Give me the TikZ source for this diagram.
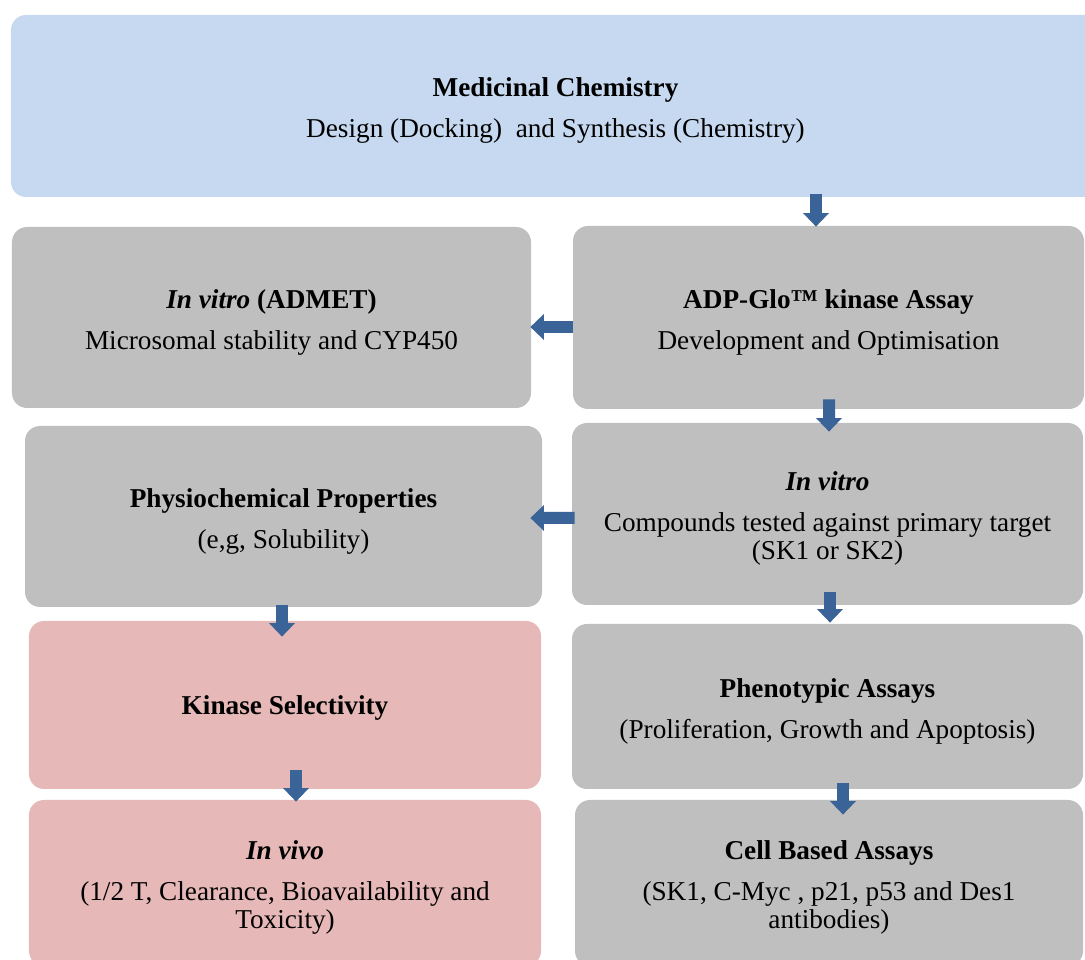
\documentclass[tikz,border=0pt]{standalone}
\usepackage{fontspec}
\setmainfont{Liberation Serif}
\usepackage{tikz}
\usetikzlibrary{shapes, calc, arrows.meta, positioning}

\definecolor{chemblue}{HTML}{C6D9F0}
\definecolor{assaygrey}{HTML}{BFBFBF}
\definecolor{vivopink}{HTML}{E6B8B7}
\definecolor{arrblue}{HTML}{3A6398}
\newcommand{\boxhead}[2][0.56cm]{\rule{0pt}{#1}\textbf{#2}}

\begin{document}
\begin{tikzpicture}[font=\fontsize{15.5}{15.9}\selectfont]
	\tikzset{box/.style={rectangle, rounded corners=0.3cm, align=center, inner sep=0pt},
		blk/.style={arrblue, line width=0.24cm, -{Triangle[width=0.5cm, length=0.27cm]}}}
	\useasboundingbox (0,0) rectangle (21.7,19.2);
	\clip (0,0) rectangle (21.7,19.2);
	\node[box, fill=chemblue, minimum width=21.78cm, minimum height=3.64cm] (med) at (11.11,17.08)
		{\boxhead{Medicinal Chemistry}\\[0.26cm] Design (Docking)\ \ and Synthesis (Chemistry)};
	\node[box, fill=assaygrey, minimum width=10.38cm, minimum height=3.62cm] (admet) at (5.43,12.85)
		{\boxhead{\textit{In vitro} (ADMET)}\\[0.26cm] Microsomal stability and CYP450};
	\node[box, fill=assaygrey, minimum width=10.22cm, minimum height=3.66cm] (adp) at (16.57,12.85)
		{\boxhead{ADP-Glo™ kinase Assay}\\[0.26cm] Development and Optimisation};
	\node[box, fill=assaygrey, minimum width=10.34cm, minimum height=3.62cm] (physio) at (5.67,8.87)
		{\boxhead{Physiochemical Properties}\\[0.26cm] (e,g, Solubility)};
	\node[box, fill=assaygrey, minimum width=10.22cm, minimum height=3.64cm] (invitro) at (16.55,8.92)
		{\boxhead{\textit{In vitro}}\\[0.26cm] Compounds tested against primary target\\ (SK1 or SK2)};
	\node[box, fill=vivopink, minimum width=10.24cm, minimum height=3.36cm] (kinase) at (5.70,5.10)
		{\boxhead[0.5cm]{Kinase Selectivity}};
	\node[box, fill=assaygrey, minimum width=10.22cm, minimum height=3.30cm] (pheno) at (16.55,5.07)
		{\boxhead{Phenotypic Assays}\\[0.26cm] (Proliferation, Growth and Apoptosis)};
	\node[box, fill=vivopink, minimum width=10.24cm, minimum height=3.32cm] (invivo) at (5.70,1.54)
		{\boxhead{\textit{In vivo}}\\[0.26cm] (1/2 T, Clearance, Bioavailability and\\ Toxicity)};
	\node[box, fill=assaygrey, minimum width=10.16cm, minimum height=3.32cm] (cell) at (16.58,1.54)
		{\boxhead{Cell Based Assays}\\[0.26cm] (SK1, C-Myc , p21, p53 and Des1\\ antibodies)};

	% block arrows between the boxes
	\draw[blk] ($(adp.north)+(-0.25,0.64)$) -- ($(adp.north)+(-0.25,-0.02)$);
	\draw[blk] ($(adp.west)+(0,-0.19)$) -- ($(admet.east)+(-0.02,-0.19)$);
	\draw[blk] ($(adp.south)+(0.01,0.2)$) -- ($(invitro.north)+(0.03,-0.18)$);
	\draw[blk] ($(invitro.west)+(0.06,-0.08)$) -- ($(physio.east)+(-0.24,-0.03)$);
	\draw[blk] ($(invitro.south)+(0.05,0.26)$) -- ($(pheno.north)+(0.05,0.02)$);
	\draw[blk] ($(physio.south)+(-0.03,0.04)$) -- ($(kinase.north)+(-0.06,-0.32)$);
	\draw[blk] ($(kinase.south)+(0.22,0.38)$) -- ($(invivo.north)+(0.22,-0.04)$);
	\draw[blk] ($(pheno.south)+(0.31,0.12)$) -- ($(cell.north)+(0.28,-0.30)$);
\end{tikzpicture}
\end{document}
